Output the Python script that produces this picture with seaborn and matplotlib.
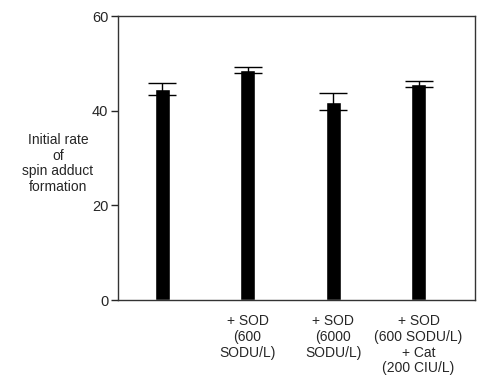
import matplotlib
matplotlib.use("Agg")
import matplotlib.pyplot as plt
import seaborn as sns
import pandas as pd

categories = ["Control", "+ SOD\n(600\nSODU/L)", "+ SOD\n(6000\nSODU/L)", "+ SOD\n(600 SODU/L)\n+ Cat\n(200 CIU/L)"]
tick_labels = ["", "+ SOD\n(600\nSODU/L)", "+ SOD\n(6000\nSODU/L)", "+ SOD\n(600 SODU/L)\n+ Cat\n(200 CIU/L)"]
values = [44.6, 48.6, 41.9, 45.6]
errors = [1.3, 0.55, 1.8, 0.6]

sns.set_style("ticks")
plt.rcParams['font.family'] = ['Liberation Sans', 'DejaVu Sans']

df = pd.DataFrame({"cond": categories, "rate": values})

fig = plt.figure(figsize=(4.86, 3.78), dpi=100)
ax = fig.add_axes([118/486, 1 - 300/378, (475-118)/486, (300-16)/378])

sns.barplot(data=df, x="cond", y="rate", color="black", width=0.175, ax=ax,
            errorbar=None, saturation=1)
ax.errorbar(range(len(values)), values, yerr=errors, fmt="none", ecolor="black",
            elinewidth=1.0, capsize=10, capthick=1.0)

ax.set_xlim(-0.515, 3.66)
ax.set_ylim(0, 60)
ax.set_yticks([0, 20, 40, 60])
ax.set_xticks(range(len(values)))
ax.set_xticklabels(tick_labels, fontsize=10, linespacing=1.17)
ax.tick_params(axis="x", length=0, pad=10)
ax.tick_params(axis="y", length=5, width=1, labelsize=10.5, pad=2)
ax.set_xlabel("")
ax.set_ylabel("")
for s in ax.spines.values():
    s.set_visible(True)
    s.set_linewidth(1.0)
    s.set_color("#333333")

fig.text(58/486, 1 - 163.5/378, "Initial rate\nof\nspin adduct\nformation", ha="center", va="center",
         fontsize=10, linespacing=1.17)

fig.savefig("out.png", dpi=100)
